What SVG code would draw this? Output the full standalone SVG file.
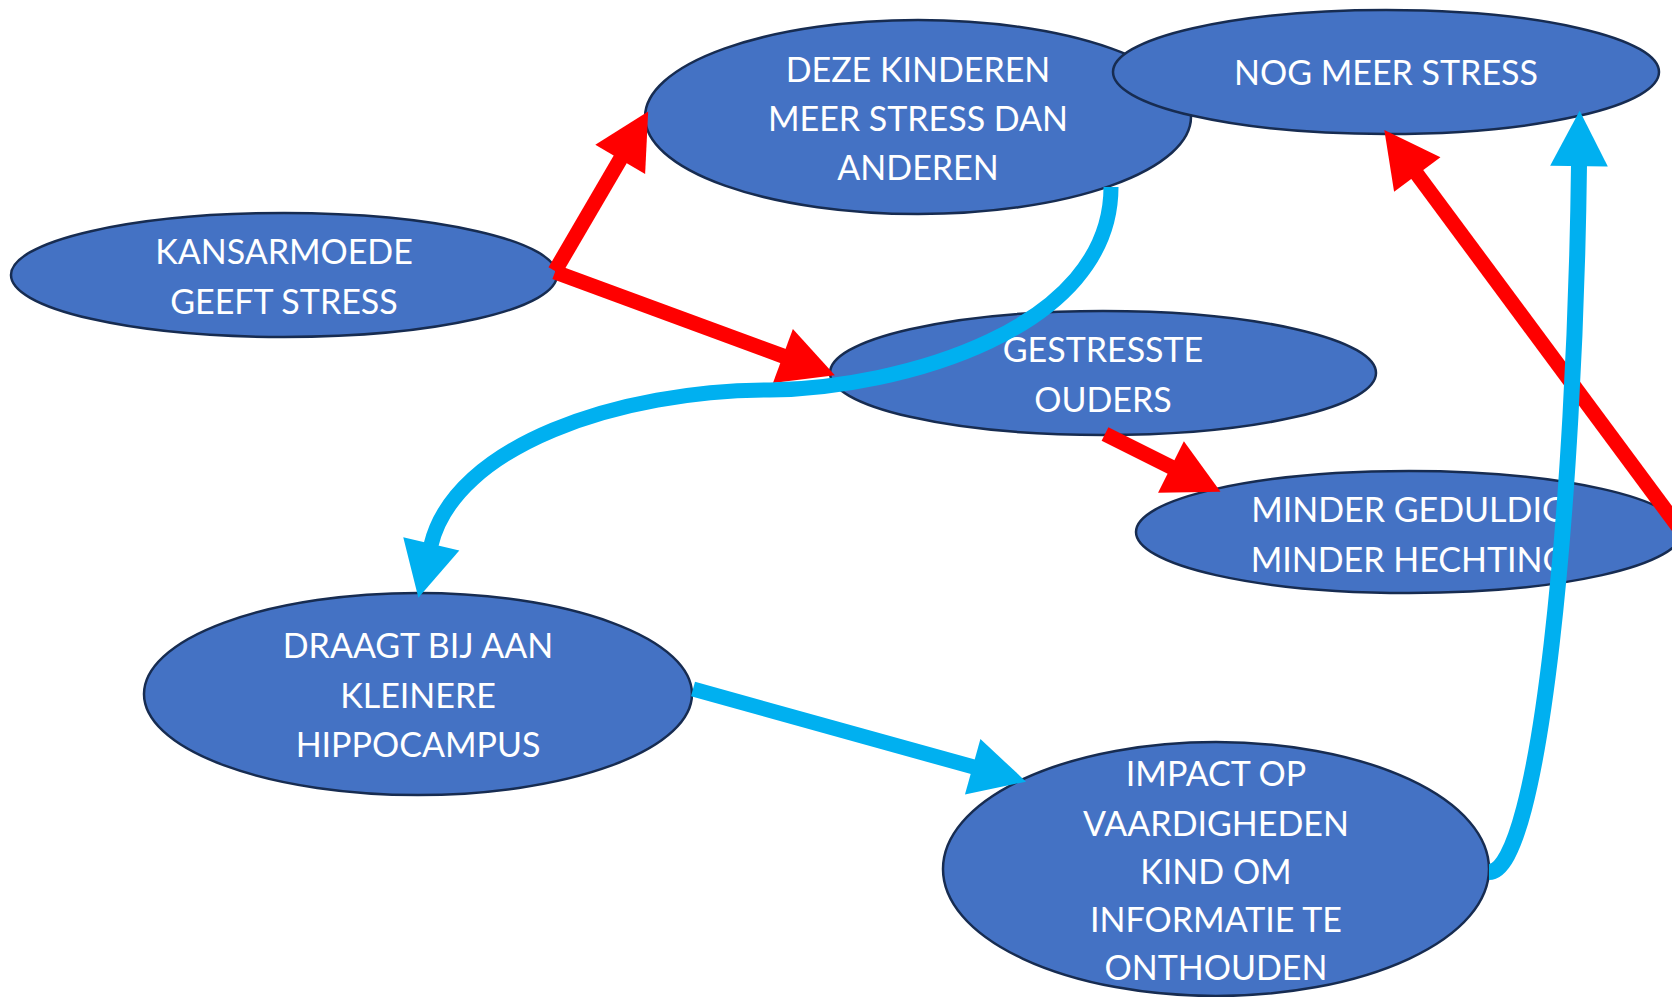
<svg xmlns="http://www.w3.org/2000/svg" width="1672" height="997" viewBox="0 0 1672 997">
<style>
.node ellipse{fill:#4472C4;stroke:#172C51;stroke-width:2.5}
.node text{font-family:Lato,"Liberation Sans",sans-serif;font-size:34px;fill:#FFFFFF;text-anchor:middle}
.red{fill:none;stroke:#FF0000;stroke-width:15}
.blue{fill:none;stroke:#00B0F0;stroke-width:15}
</style>
<defs>
<marker id="ar" markerUnits="userSpaceOnUse" markerWidth="60" markerHeight="60" viewBox="-2 -26 52 52" refX="1" refY="0" orient="auto">
<path d="M0,-25 L48,0 L0,25 z" fill="#FF0000"/>
</marker>
<marker id="ab" markerUnits="userSpaceOnUse" markerWidth="60" markerHeight="60" viewBox="-2 -26 52 52" refX="1" refY="0" orient="auto">
<path d="M0,-25 L48,0 L0,25 z" fill="#00B0F0"/>
</marker>
</defs>
<g id="n-kansarmoede" class="node">
<ellipse cx="284" cy="275" rx="273" ry="62"/>
<text x="284" y="264">KANSARMOEDE</text>
<text x="284" y="314">GEEFT STRESS</text>
</g>
<g id="n-deze" class="node">
<ellipse cx="918" cy="117" rx="273" ry="97"/>
<text x="918" y="82">DEZE KINDEREN</text>
<text x="918" y="131">MEER STRESS DAN</text>
<text x="918" y="180">ANDEREN</text>
</g>
<g id="n-nogmeer" class="node">
<ellipse cx="1386" cy="72" rx="273" ry="62"/>
<text x="1386" y="85">NOG MEER STRESS</text>
</g>
<g id="n-gestresste" class="node">
<ellipse cx="1103" cy="373" rx="273" ry="62"/>
<text x="1103" y="362">GESTRESSTE</text>
<text x="1103" y="412">OUDERS</text>
</g>
<g id="n-minder" class="node">
<ellipse cx="1409" cy="532" rx="273" ry="61"/>
<text x="1409" y="522">MINDER GEDULDIG</text>
<text x="1409" y="572">MINDER HECHTING</text>
</g>
<g id="n-draagt" class="node">
<ellipse cx="418" cy="694" rx="274" ry="101"/>
<text x="418" y="658">DRAAGT BIJ AAN</text>
<text x="418" y="708">KLEINERE</text>
<text x="418" y="757">HIPPOCAMPUS</text>
</g>
<g id="n-impact" class="node">
<ellipse cx="1216" cy="869" rx="273" ry="127"/>
<text x="1216" y="786">IMPACT OP</text>
<text x="1216" y="836">VAARDIGHEDEN</text>
<text x="1216" y="884">KIND OM</text>
<text x="1216" y="932">INFORMATIE TE</text>
<text x="1216" y="980">ONTHOUDEN</text>
</g>
<g id="connectors">
<path class="red" d="M555,271 L620.8,158.4" marker-end="url(#ar)"/>
<path class="red" d="M555,272 L784,356.4" marker-end="url(#ar)"/>
<path class="red" d="M1105,434 L1172,467.5" marker-end="url(#ar)"/>
<path class="red" d="M1682,532 L1416.6,173.6" marker-end="url(#ar)"/>
<path class="blue" d="M1111,187 C1111,330 900,388 770,390 C620,390 455,445 431,545" marker-end="url(#ab)"/>
<path class="blue" d="M693,689 L973.8,767.1" marker-end="url(#ab)"/>
<path class="blue" style="stroke-width:16" d="M1489,872 C1540,872 1575,500 1579,165" marker-end="url(#ab)"/>
</g>
</svg>
